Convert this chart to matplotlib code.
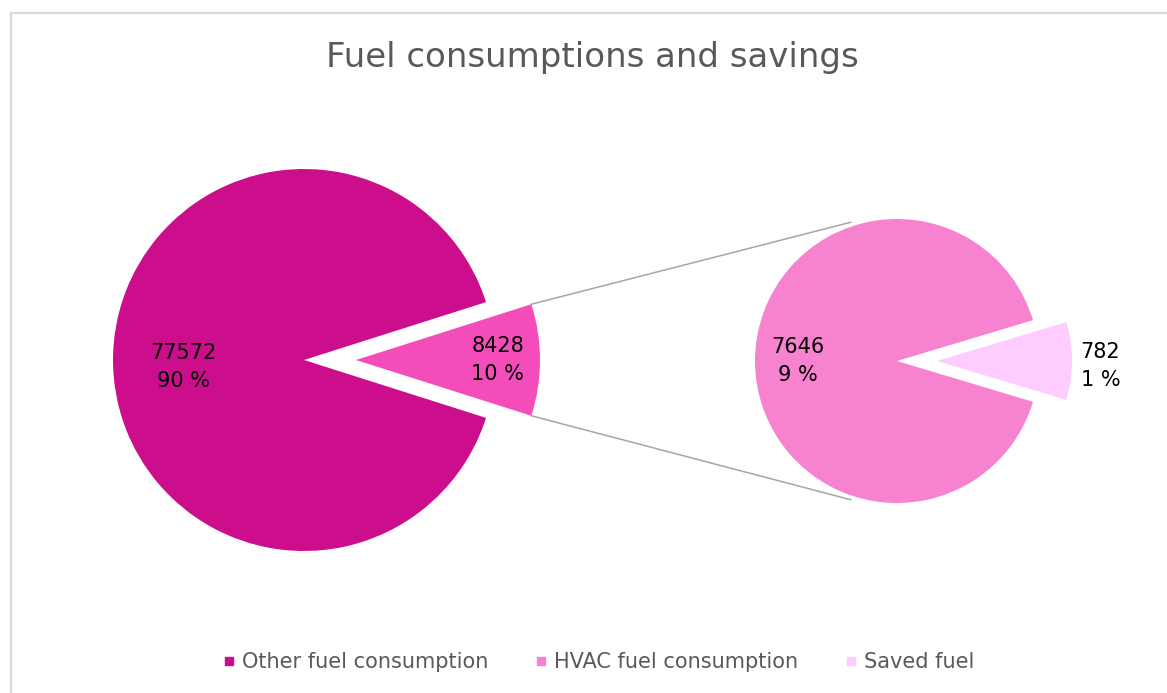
import numpy as np
import matplotlib.pyplot as plt
from matplotlib.lines import Line2D

# fuel figures
categories = ['Other fuel consumption', 'HVAC fuel consumption', 'Saved fuel']
other_fuel = 77572
hvac_split = [7646, 782]          # HVAC consumption, saved fuel
hvac_total = sum(hvac_split)
main_values = [other_fuel, hvac_total]
grand_total = other_fuel + hvac_total

c_other = '#CC0E8C'
c_hvac_main = '#F44DBA'
c_hvac = '#F782CF'
c_saved = '#FFCCFF'
grey_text = '#595959'

W, H = 1167, 693
fig = plt.figure(figsize=(W / 100, H / 100), dpi=100)
ax = fig.add_axes([0, 0, 1, 1])

# main pie, HVAC slice pulled out to the right
c1, r1 = (304, 333), 191
start1 = 360 * hvac_total / grand_total / 2
w1, _ = ax.pie(main_values, center=c1, radius=r1, startangle=start1,
               explode=[0, 52], colors=[c_other, c_hvac_main],
               wedgeprops=dict(linewidth=0))
w1[1].set_radius(184)

# secondary pie splitting HVAC into consumption and savings
c2, r2 = (897, 332), 142
start2 = 360 * hvac_split[1] / hvac_total / 2
w2, _ = ax.pie(hvac_split, center=c2, radius=r2, startangle=start2,
               explode=[0, 40], colors=[c_hvac, c_saved],
               wedgeprops=dict(linewidth=0))
w2[1].set_radius(135)


def put_label(wedge, value, frac, dy=0):
    mid = np.deg2rad((wedge.theta1 + wedge.theta2) / 2)
    cx, cy = wedge.center
    x = cx + frac * wedge.r * np.cos(mid)
    y = cy + frac * wedge.r * np.sin(mid) + dy
    pct = round(100 * value / grand_total)
    ax.text(x, y, f'{value}\n{pct} %', ha='center', va='center',
            fontsize=15, linespacing=1.55, color='black')


put_label(w1[0], main_values[0], 0.63, dy=-7)
put_label(w1[1], main_values[1], 0.77)
put_label(w2[0], hvac_split[0], 0.70)
put_label(w2[1], hvac_split[1], 1.21, dy=-5)

# connector lines between the pulled slice and the second pie
hv = w1[1]
for sign in (1, -1):
    a = np.deg2rad(start1 * sign)
    x0 = hv.center[0] + hv.r * np.cos(a)
    y0 = hv.center[1] + hv.r * np.sin(a)
    b = np.deg2rad(180 - 71.5 * sign)
    x1 = c2[0] + 1.03 * r2 * np.cos(b)
    y1 = c2[1] + 1.03 * r2 * np.sin(b)
    ax.plot([x0, x1], [y0, y1], color='#A6A6A6', lw=1.1, zorder=0)

ax.set_xlim(0, W)
ax.set_ylim(0, H)
ax.set_aspect('equal')
ax.axis('off')

fig.text(0.508, 1 - 58 / H, 'Fuel consumptions and savings',
         ha='center', va='center', fontsize=24.5, color=grey_text)

handles = [Line2D([], [], marker='s', linestyle='none', markersize=6,
                  markerfacecolor=c, markeredgecolor=c)
           for c in (c_other, c_hvac, c_saved)]
fig.legend(handles, categories, loc='center', ncol=3, frameon=False,
           bbox_to_anchor=(0.512, 1 - 662 / H), fontsize=15,
           labelcolor=grey_text, handletextpad=0.2, columnspacing=2.15,
           handlelength=0.8)

# chart area border (left and top edges visible)
fig.add_artist(Line2D([10.5 / W, 10.5 / W, 1], [0, 1 - 12.5 / H, 1 - 12.5 / H],
                      transform=fig.transFigure, color='#D9D9D9', lw=1.5))

fig.savefig('out.png', dpi=100)
